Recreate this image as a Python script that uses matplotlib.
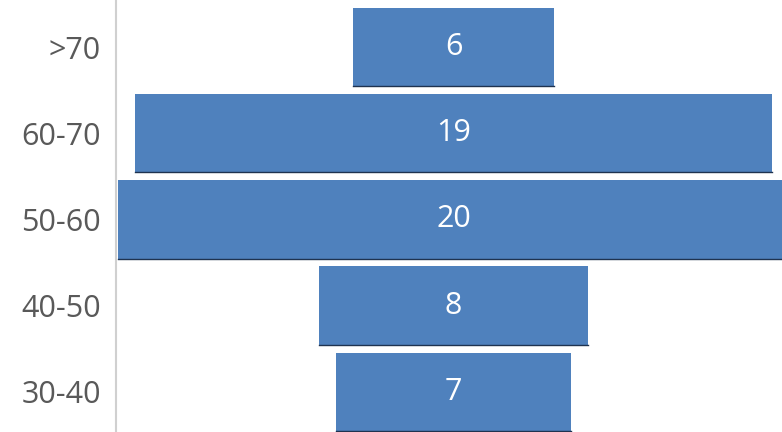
import matplotlib.pyplot as plt

categories = ["30-40", "40-50", "50-60", "60-70", ">70"]
counts = [7, 8, 20, 19, 6]

bar_color = "#4F81BD"

plt.rcParams["font.family"] = ["Open Sans", "DejaVu Sans"]

fig = plt.figure(figsize=(7.82, 4.32), dpi=100)
ax = fig.add_axes([116 / 782, 0, 1 - 116 / 782, 1])

pos = list(range(len(categories)))
lefts = [-c / 2 for c in counts]
bars = ax.barh(pos, counts, left=lefts, height=0.91, color=bar_color)

# thin dark shadow under each bar
for b in bars:
    x0, y0 = b.get_x(), b.get_y()
    ax.plot([x0, x0 + b.get_width()], [y0, y0], color="#1F3350", lw=1.0)

for p, c in zip(pos, counts):
    ax.text(0, p, str(c), ha="center", va="center", color="white", fontsize=22)

ax.set_xlim(-10.07, 9.8)
ax.set_ylim(-0.464, 4.545)
ax.set_yticks(pos)
ax.set_yticklabels(categories, fontsize=22, color="#595959")
ax.tick_params(axis="y", length=0, pad=11)
ax.set_xticks([])
for s in ["top", "right", "bottom"]:
    ax.spines[s].set_visible(False)
ax.spines["left"].set_color("#D0D0D0")
ax.spines["left"].set_linewidth(1.5)

fig.savefig("out.png", dpi=100)
